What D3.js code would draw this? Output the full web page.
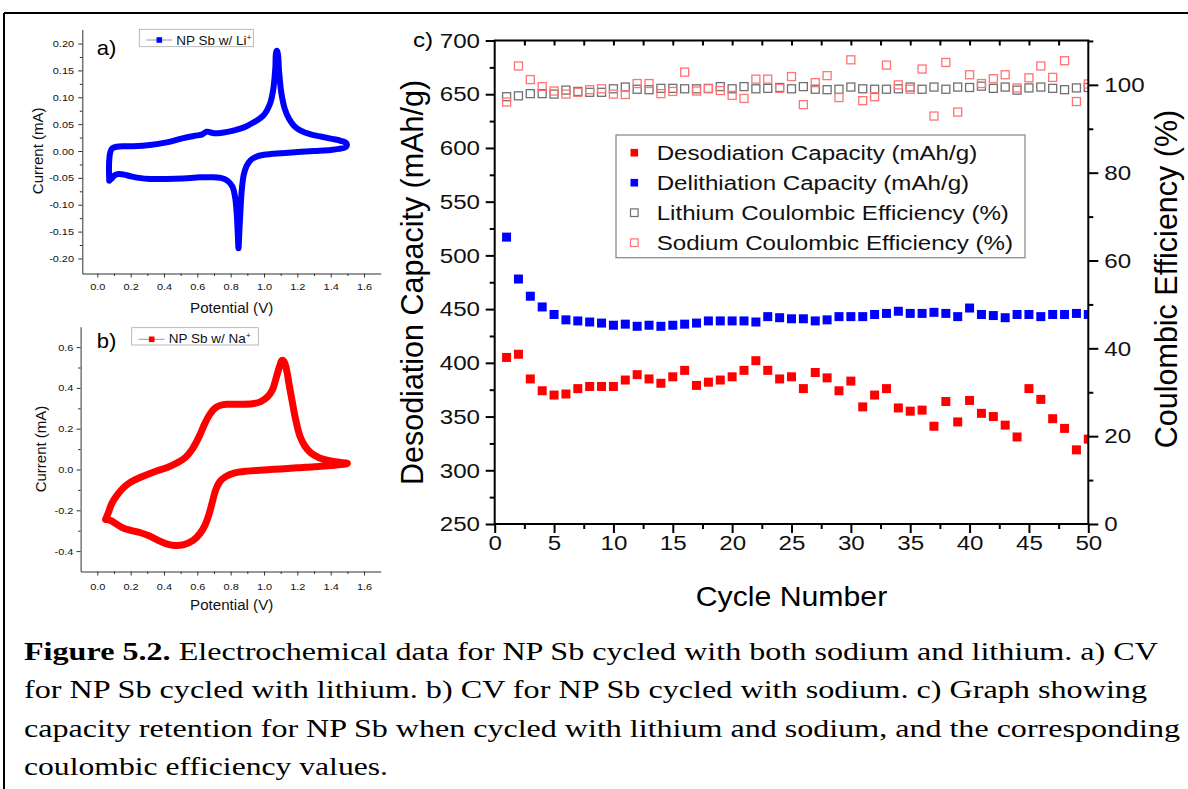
<!DOCTYPE html>
<html>
<head>
<meta charset="utf-8">
<script src="https://cdn.jsdelivr.net/npm/d3@7"></script>
<style>
body{margin:0;background:#fff;}
svg{display:block;}
</style>
</head>
<body>
<div id="canvas"></div>
<script>
// ---- data ----
var cycleNumbers = [1,2,3,4,5,6,7,8,9,10,11,12,13,14,15,16,17,18,19,20,21,22,23,24,25,
                    26,27,28,29,30,31,32,33,34,35,36,37,38,39,40,41,42,43,44,45,46,47,48,49,50];
var desodiationCapacity = [405,408,385,374,370,371,376,378,378,378,384,389,385,381,387,393,379,382,384,387,393,402,393,385,387,
                           376,391,386,374,383,359,370,376,358,355,356,341,364,345,365,353,350,342,331,376,366,348,339,319,329];
var delithiationCapacity = [517,478,462,452,445,440,439,438,437,435,436,434,435,434,435,436,437,439,439,439,439,438,443,442,441,
                            441,439,440,443,443,443,445,446,448,446,446,447,446,443,451,445,444,442,445,445,443,445,445,446,445];
var lithiumCE = [97.3,97.5,98.0,98.0,97.9,98.8,98.5,98.3,98.3,99.1,99.5,99.0,98.9,99.2,99.2,99.1,99.1,99.2,99.6,99.1,99.6,99.1,99.2,99.4,99.1,
                 99.6,99.0,98.9,99.0,99.5,99.1,99.0,99.0,99.1,99.5,99.0,99.5,99.0,99.5,99.4,99.7,99.2,99.5,98.8,99.3,99.5,99.2,98.9,99.3,99.4];
var sodiumCE = [96.1,104.3,101.2,99.6,98.6,97.9,98.3,98.9,99.1,97.9,97.8,100.3,100.3,98.0,98.5,102.9,98.6,99.1,98.7,97.6,96.9,101.3,101.3,99.2,101.9,
                95.5,100.5,102.1,97.1,105.7,96.4,97.3,104.5,100.0,99.0,103.6,92.9,105.1,93.8,102.3,100.3,101.4,102.3,99.3,101.6,104.3,101.7,105.5,96.2,100.2];

// CV loops (potential V, current mA), traced round the loop
var liPotential = [0.072,0.070,0.072,0.078,0.090,0.116,0.160,0.216,0.316,0.416,0.516,0.600,0.630,0.655,0.675,0.700,0.750,0.816,0.880,0.936,
                   0.996,1.036,1.056,1.068,1.074,1.080,1.090,1.104,1.125,1.150,1.180,1.220,1.280,1.340,1.400,1.460,1.495,
                   1.490,1.450,1.400,1.300,1.200,1.100,1.000,0.950,0.920,0.895,0.878,0.866,0.858,0.852,0.847,0.842,0.836,0.826,0.810,
                   0.780,0.740,0.680,0.616,0.516,0.416,0.316,0.250,0.200,0.160,0.130,0.105,0.090,0.072];
var liCurrent = [-0.055,-0.035,-0.015,-0.002,0.005,0.008,0.009,0.009,0.011,0.016,0.024,0.029,0.031,0.036,0.035,0.033,0.034,0.038,0.044,0.053,
                 0.066,0.088,0.116,0.155,0.186,0.186,0.150,0.108,0.078,0.060,0.047,0.038,0.031,0.027,0.023,0.019,0.014,
                 0.007,0.004,0.002,0.000,-0.002,-0.004,-0.007,-0.011,-0.017,-0.028,-0.045,-0.075,-0.115,-0.150,-0.181,-0.150,-0.115,-0.085,-0.066,
                 -0.055,-0.050,-0.049,-0.049,-0.051,-0.052,-0.052,-0.050,-0.047,-0.044,-0.043,-0.045,-0.050,-0.055];
var naPotential = [0.050,0.065,0.085,0.115,0.150,0.200,0.260,0.340,0.420,0.480,0.530,0.570,0.610,0.645,0.675,0.705,0.740,0.780,0.850,0.930,
                   0.980,1.020,1.050,1.075,1.095,1.108,1.120,1.135,1.150,1.170,1.190,1.215,1.245,1.280,1.330,1.400,1.460,1.500,
                   1.460,1.400,1.300,1.200,1.100,1.000,0.900,0.820,0.770,0.735,0.710,0.690,0.670,0.645,0.615,0.575,0.520,0.460,
                   0.410,0.360,0.310,0.260,0.200,0.150,0.110,0.080,0.050];
var naCurrent = [-0.245,-0.215,-0.170,-0.130,-0.095,-0.062,-0.038,-0.012,0.010,0.033,0.060,0.100,0.160,0.225,0.270,0.300,0.315,0.320,0.320,0.322,
                 0.333,0.355,0.390,0.455,0.510,0.535,0.530,0.490,0.420,0.330,0.245,0.165,0.115,0.082,0.058,0.042,0.035,0.030,
                 0.024,0.020,0.013,0.008,0.003,-0.002,-0.008,-0.018,-0.035,-0.060,-0.100,-0.160,-0.220,-0.275,-0.315,-0.348,-0.368,-0.372,
                 -0.363,-0.345,-0.325,-0.310,-0.298,-0.285,-0.265,-0.250,-0.245];

// ticks and labels
var potentialTicks = [0,0.2,0.4,0.6,0.8,1.0,1.2,1.4,1.6];
var liCurrentTicks = [-0.20,-0.15,-0.10,-0.05,0.00,0.05,0.10,0.15,0.20];
var naCurrentTicks = [-0.4,-0.2,0.0,0.2,0.4,0.6];
var capacityTicks = [250,300,350,400,450,500,550,600,650,700];
var efficiencyTicks = [0,20,40,60,80,100];
var cycleTicks = [0,5,10,15,20,25,30,35,40,45,50];
var legendLabels = ["Desodiation Capacity (mAh/g)","Delithiation Capacity (mAh/g)",
                    "Lithium Coulombic Efficiency (%)","Sodium Coulombic Efficiency (%)"];
var captionLines = [
  ["Figure 5.2.", " Electrochemical data for NP Sb cycled with both sodium and lithium. a) CV"],
  ["", "for NP Sb cycled with lithium. b) CV for NP Sb cycled with sodium. c) Graph showing"],
  ["", "capacity retention for NP Sb when cycled with lithium and sodium, and the corresponding"],
  ["", "coulombic efficiency values."]
];

var sans = "'Liberation Sans', Arial, Helvetica, sans-serif";
var serif = "'Liberation Serif', 'Times New Roman', serif";

var svg = d3.select("#canvas").append("svg")
  .attr("width", 1188).attr("height", 789)
  .style("background", "#fff");

// the source picture is a little wider than tall, so stretch text sideways
function stretch(sel, sx){
  sel.each(function(){
    var t = d3.select(this), x = +t.attr("x") || 0;
    t.attr("transform", "translate(" + x + ",0) scale(" + sx + ",1) translate(" + (-x) + ",0)");
  });
}
function midpoints(arr){
  return d3.pairs(arr).map(function(p){ return (p[0] + p[1]) / 2; });
}
function styleAxis(g, color, width, font, sx, keepDomain){
  if (!keepDomain) g.select(".domain").remove();
  g.select(".domain").attr("stroke", color).attr("stroke-width", width);
  g.selectAll("line").attr("stroke", color).attr("stroke-width", width);
  g.selectAll("text").attr("fill", "#111").style("font-family", sans).style("font-size", font + "px");
  stretch(g.selectAll("text"), sx);
}

// outer figure border (only top and left are in frame)
svg.append("line").attr("x1", 4).attr("x2", 1188).attr("y1", 13).attr("y2", 13).attr("stroke", "#000").attr("stroke-width", 2);
svg.append("line").attr("x1", 4).attr("x2", 4).attr("y1", 13).attr("y2", 789).attr("stroke", "#000").attr("stroke-width", 2);

// ---------- CV panels a) and b) ----------
function cvPanel(o){
  var g = svg.append("g");
  var x = d3.scaleLinear().domain(o.xDomain).range(o.xRange);
  var y = d3.scaleLinear().domain(o.yDomain).range(o.yRange);
  var x0 = o.xRange[0], y0 = o.yRange[0];

  var ax = g.append("g").attr("transform", "translate(0," + y0 + ")")
    .call(d3.axisBottom(x).tickValues(potentialTicks).tickFormat(function(d){ return d.toFixed(1); })
      .tickSize(4).tickSizeOuter(0).tickPadding(o.xPad));
  styleAxis(ax, "#333", 1, 9.5, 1.15, true);
  var axm = g.append("g").attr("transform", "translate(0," + y0 + ")")
    .call(d3.axisBottom(x).tickValues(midpoints(potentialTicks)).tickFormat("").tickSize(2.5).tickSizeOuter(0));
  styleAxis(axm, "#333", 1, 9.5, 1, false);

  var ay = g.append("g").attr("transform", "translate(" + x0 + ",0)")
    .call(d3.axisLeft(y).tickValues(o.yTicks).tickFormat(function(d){ return d.toFixed(o.digits); })
      .tickSize(4).tickSizeOuter(0).tickPadding(o.yPad));
  styleAxis(ay, "#333", 1, 9.5, 1.15, true);
  var aym = g.append("g").attr("transform", "translate(" + x0 + ",0)")
    .call(d3.axisLeft(y).tickValues(midpoints(o.yTicks)).tickFormat("").tickSize(2.5).tickSizeOuter(0));
  styleAxis(aym, "#333", 1, 9.5, 1, false);

  var line = d3.line()
    .x(function(d){ return x(d[0]); })
    .y(function(d){ return y(d[1]); })
    .curve(d3.curveCatmullRom.alpha(0.5));
  g.append("path").datum(d3.zip(o.potential, o.current))
    .attr("d", line).attr("fill", "none")
    .attr("stroke", o.color).attr("stroke-width", o.width)
    .attr("stroke-linejoin", "round").attr("stroke-linecap", "round");

  // axis titles
  var xt = g.append("text").attr("x", o.xTitle[0]).attr("y", o.xTitle[1])
    .attr("text-anchor", "middle").style("font-family", sans).style("font-size", "14px")
    .attr("fill", "#111").text("Potential (V)");
  stretch(xt, 1.08);
  g.append("text")
    .attr("transform", "translate(" + o.yTitle[0] + "," + o.yTitle[1] + ") rotate(-90)")
    .attr("text-anchor", "middle").style("font-family", sans).style("font-size", "15px")
    .attr("fill", "#111").text("Current (mA)");

  // panel letter
  var pl = g.append("text").attr("x", o.letter[0]).attr("y", o.letter[1])
    .style("font-family", sans).style("font-size", "20px").attr("fill", "#000").text(o.letterText);
  stretch(pl, 1.1);

  // legend
  var lg = o.legend;
  g.append("rect").attr("x", lg.x).attr("y", lg.y).attr("width", lg.w).attr("height", lg.h)
    .attr("fill", "#fff").attr("stroke", "#a8a8a8").attr("stroke-width", 0.8);
  g.append("line").attr("x1", lg.x + 7).attr("x2", lg.x + 33).attr("y1", lg.cy).attr("y2", lg.cy)
    .attr("stroke", "#9a9a9a").attr("stroke-width", 1);
  g.append("rect").attr("x", lg.x + 20 - 2.8).attr("y", lg.cy - 2.8).attr("width", 5.6).attr("height", 5.6)
    .attr("fill", o.color);
  var lt = g.append("text").attr("x", lg.x + 37).attr("y", lg.base)
    .style("font-family", sans).style("font-size", "12.5px").attr("fill", "#111");
  lt.append("tspan").text(lg.label);
  lt.append("tspan").attr("dy", -5).style("font-size", "8px").text("+");
  stretch(lt, 1.08);
}

cvPanel({
  xDomain: [-0.09, 1.7], xRange: [82.3, 380.7],
  yDomain: [-0.228, 0.226], yRange: [273.5, 29.6],
  yTicks: liCurrentTicks, digits: 2, xPad: 5.8, yPad: 4.3,
  potential: liPotential, current: liCurrent, color: "#0000ff", width: 6,
  xTitle: [231.7, 312.7], yTitle: [42.5, 150.8],
  letter: [96.7, 55], letterText: "a)",
  legend: {x: 139.3, y: 29.3, w: 114, h: 17.4, cy: 40, base: 45, label: "NP Sb w/ Li"}
});
cvPanel({
  xDomain: [-0.1, 1.7], xRange: [80.6, 380.7],
  yDomain: [-0.5, 0.7], yRange: [571.5, 326.7],
  yTicks: naCurrentTicks, digits: 1, xPad: 7.5, yPad: 3.3,
  potential: naPotential, current: naCurrent, color: "#ff0000", width: 7,
  xTitle: [231.7, 610], yTitle: [45.5, 449],
  letter: [96.7, 348.3], letterText: "b)",
  legend: {x: 131.7, y: 327.7, w: 126.6, h: 17.3, cy: 339.3, base: 343.3, label: "NP Sb w/ Na"}
});

// ---------- panel c) capacity and coulombic efficiency ----------
var cLeft = 494.7, cRight = 1088.3, cTop = 40.5, cBottom = 524;
var xC = d3.scaleLinear().domain([0, 50]).range([cLeft, cRight]);
var yCap = d3.scaleLinear().domain([250, 700]).range([cBottom, cTop]);
var yEff = d3.scaleLinear().domain([0, 110.1]).range([cBottom, cTop]);

var gc = svg.append("g");
gc.append("clipPath").attr("id", "plotclip").append("rect")
  .attr("x", cLeft).attr("y", cTop).attr("width", cRight - cLeft).attr("height", cBottom - cTop);

var bx = gc.append("g").attr("transform", "translate(0," + cBottom + ")")
  .call(d3.axisBottom(xC).tickValues(cycleTicks).tickFormat(d3.format("d")).tickSize(9).tickPadding(2));
styleAxis(bx, "#000", 2, 21, 1.15, false);
var bxm = gc.append("g").attr("transform", "translate(0," + cBottom + ")")
  .call(d3.axisBottom(xC).tickValues(midpoints(cycleTicks)).tickFormat("").tickSize(5));
styleAxis(bxm, "#000", 2, 21, 1, false);
var tx = gc.append("g").attr("transform", "translate(0," + cTop + ")")
  .call(d3.axisTop(xC).tickValues(cycleTicks.slice(1, -1).concat(midpoints(cycleTicks))).tickFormat("").tickSize(-5));
styleAxis(tx, "#000", 2, 21, 1, false);

var ly = gc.append("g").attr("transform", "translate(" + cLeft + ",0)")
  .call(d3.axisLeft(yCap).tickValues(capacityTicks).tickFormat(d3.format("d")).tickSize(9).tickPadding(5.7));
styleAxis(ly, "#000", 2, 21, 1.15, false);
var lym = gc.append("g").attr("transform", "translate(" + cLeft + ",0)")
  .call(d3.axisLeft(yCap).tickValues(midpoints(capacityTicks)).tickFormat("").tickSize(5));
styleAxis(lym, "#000", 2, 21, 1, false);

var ry = gc.append("g").attr("transform", "translate(" + cRight + ",0)")
  .call(d3.axisRight(yEff).tickValues(efficiencyTicks).tickFormat(d3.format("d")).tickSize(10).tickPadding(6));
styleAxis(ry, "#000", 2, 21, 1.15, false);
var rym = gc.append("g").attr("transform", "translate(" + cRight + ",0)")
  .call(d3.axisRight(yEff).tickValues(midpoints(efficiencyTicks).concat([110])).tickFormat("").tickSize(5));
styleAxis(rym, "#000", 2, 21, 1, false);

// markers
var marks = gc.append("g").attr("clip-path", "url(#plotclip)");
function squareSeries(values, yScale, size, fill, stroke, sw){
  marks.append("g").selectAll("rect")
    .data(d3.zip(cycleNumbers, values))
    .enter().append("rect")
    .attr("x", function(d){ return xC(d[0]) - size / 2; })
    .attr("y", function(d){ return yScale(d[1]) - size / 2; })
    .attr("width", size).attr("height", size)
    .attr("fill", fill).attr("stroke", stroke).attr("stroke-width", sw);
}
squareSeries(lithiumCE, yEff, 8, "none", "#707070", 1.3);
squareSeries(sodiumCE, yEff, 8, "none", "#ff7474", 1.3);
squareSeries(desodiationCapacity, yCap, 9, "#ff0000", "none", 0);
squareSeries(delithiationCapacity, yCap, 9, "#0000ff", "none", 0);

// frame
gc.append("rect").attr("x", cLeft).attr("y", cTop).attr("width", cRight - cLeft).attr("height", cBottom - cTop)
  .attr("fill", "none").attr("stroke", "#000").attr("stroke-width", 2);

// legend
var legendStyle = [
  {fill: "#ff0000", stroke: "none", sw: 0},
  {fill: "#0000ff", stroke: "none", sw: 0},
  {fill: "none", stroke: "#707070", sw: 1.2},
  {fill: "none", stroke: "#ff7474", sw: 1.2}
];
gc.append("rect").attr("x", 616).attr("y", 135).attr("width", 409).attr("height", 122.7)
  .attr("fill", "#fff").attr("stroke", "#8c8c8c").attr("stroke-width", 1.3);
var rows = gc.append("g").selectAll("g").data(legendLabels).enter().append("g")
  .attr("transform", function(d, i){ return "translate(0," + (152.7 + i * 30) + ")"; });
rows.append("rect").attr("x", 634.3 - 3.8).attr("y", -3.8).attr("width", 7.6).attr("height", 7.6)
  .attr("fill", function(d, i){ return legendStyle[i].fill; })
  .attr("stroke", function(d, i){ return legendStyle[i].stroke; })
  .attr("stroke-width", function(d, i){ return legendStyle[i].sw; });
var rowText = rows.append("text").attr("x", 656.7).attr("y", 7.5)
  .style("font-family", sans).style("font-size", "21px").attr("fill", "#111")
  .text(function(d){ return d; });
stretch(rowText, 1.15);

// titles
var ct = gc.append("text").attr("x", 413).attr("y", 47)
  .style("font-family", sans).style("font-size", "21px").attr("fill", "#000").text("c)");
stretch(ct, 1.15);
gc.append("text").attr("transform", "translate(423,282.5) rotate(-90) scale(1,1.05)")
  .attr("text-anchor", "middle").style("font-family", sans).style("font-size", "30.5px")
  .attr("fill", "#000").text("Desodiation Capacity (mAh/g)");
gc.append("text").attr("transform", "translate(1177,279) rotate(-90)")
  .attr("text-anchor", "middle").style("font-family", sans).style("font-size", "30.5px")
  .attr("fill", "#000").text("Coulombic Efficiency (%)");
var xtitle = gc.append("text").attr("x", 791.5).attr("y", 606)
  .attr("text-anchor", "middle").style("font-family", sans).style("font-size", "28px")
  .attr("fill", "#000").text("Cycle Number");
stretch(xtitle, 1.08);

// ---------- caption ----------
var captionWidths = [1134, 1123, 1156, 364];
var captionBase = [660, 698, 737, 775];
captionLines.forEach(function(parts, i){
  var t = svg.append("text").attr("x", 24).attr("y", captionBase[i])
    .style("font-family", serif).style("font-size", "25px").attr("fill", "#000")
    .attr("textLength", captionWidths[i]).attr("lengthAdjust", "spacingAndGlyphs");
  if (parts[0]) t.append("tspan").style("font-weight", "bold").text(parts[0]);
  t.append("tspan").text(parts[1]);
});
</script>
</body>
</html>
